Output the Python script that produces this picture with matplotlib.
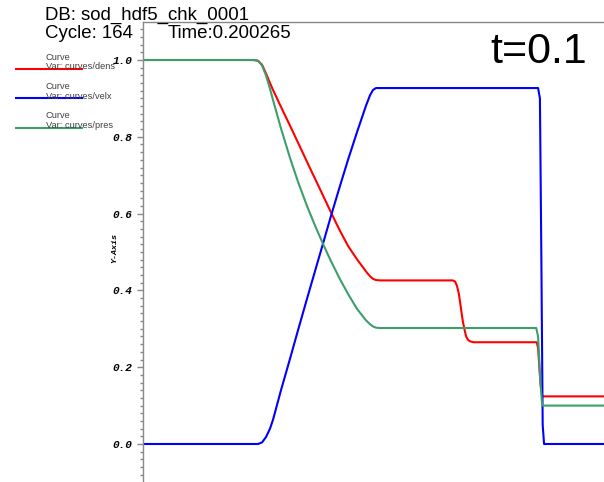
import matplotlib
matplotlib.use("Agg")
import matplotlib.pyplot as plt
from matplotlib.lines import Line2D
import numpy as np

# ---- data (x as fraction of the visible plot width) ----
dens_x = [0.0, 0.2408, 0.2495, 0.2581, 0.2668, 0.2755, 0.2820, 0.2993, 0.3189,
          0.3362, 0.3557, 0.3731, 0.3905, 0.4078, 0.4273, 0.4447, 0.4642, 0.4772,
          0.4859, 0.4924, 0.4989, 0.5054, 0.5141, 0.672, 0.677, 0.681, 0.685,
          0.688, 0.691, 0.694, 0.698, 0.701, 0.705, 0.710, 0.717, 0.854, 0.857,
          0.862, 0.866, 1.0]
dens_y = [1.0, 1.0, 0.998, 0.988, 0.965, 0.940, 0.922, 0.878, 0.829,
          0.785, 0.735, 0.691, 0.647, 0.603, 0.555, 0.516, 0.481, 0.460,
          0.446, 0.437, 0.430, 0.427, 0.426, 0.426, 0.423, 0.412, 0.392,
          0.368, 0.342, 0.318, 0.295, 0.280, 0.271, 0.267, 0.265, 0.265, 0.250,
          0.160, 0.124, 0.124]

velx_x = [0.0, 0.2495, 0.2581, 0.2668, 0.2755, 0.2820, 0.2993, 0.3189, 0.3362,
          0.3557, 0.3731, 0.3905, 0.4078, 0.4273, 0.4447, 0.4642, 0.4772, 0.4837,
          0.4924, 0.4989, 0.5054, 0.857, 0.861, 0.864, 0.867, 0.870, 1.0]
velx_y = [0.0, 0.0, 0.004, 0.018, 0.040, 0.063, 0.140, 0.222, 0.296,
          0.378, 0.450, 0.522, 0.594, 0.672, 0.740, 0.812, 0.858, 0.881,
          0.908, 0.922, 0.927, 0.927, 0.900, 0.500, 0.050, 0.0, 0.0]

pres_x = [0.0, 0.2408, 0.2495, 0.2581, 0.2668, 0.2755, 0.2820, 0.2993, 0.3189,
          0.3362, 0.3557, 0.3731, 0.3905, 0.4078, 0.4273, 0.4447, 0.4642, 0.4772,
          0.4837, 0.4924, 0.4989, 0.5054, 0.5141, 0.853, 0.857, 0.862, 0.866, 1.0]
pres_y = [1.0, 1.0, 0.998, 0.986, 0.960, 0.925, 0.896, 0.822, 0.745,
          0.683, 0.620, 0.569, 0.521, 0.476, 0.429, 0.391, 0.352, 0.332,
          0.322, 0.312, 0.306, 0.303, 0.302, 0.302, 0.280, 0.160, 0.100, 0.100]

yticks = [0.0, 0.2, 0.4, 0.6, 0.8, 1.0]
ytick_labels = ["0.0", "0.2", "0.4", "0.6", "0.8", "1.0"]
series_names = ["Var: curves/dens", "Var: curves/velx", "Var: curves/pres"]
series_colors = ["#ff0000", "#0000ff", "#3d9e6b"]

W, H = 604, 482
fig = plt.figure(figsize=(W / 100, H / 100), dpi=100)
ax = fig.add_axes([143 / W, 0.0, (W - 143) / W, (H - 22) / H])

for (xs, ys, c) in [(dens_x, dens_y, series_colors[0]),
                    (velx_x, velx_y, series_colors[1]),
                    (pres_x, pres_y, series_colors[2])]:
    ax.plot(xs, ys, color=c, lw=1.5, solid_joinstyle="round")

ax.set_xlim(0, 1)
ax.set_ylim(-0.099, 1.099)
for s in ["bottom", "right"]:
    ax.spines[s].set_visible(False)
for s in ["left", "top"]:
    ax.spines[s].set_color("#888888")
    ax.spines[s].set_linewidth(1.0)
ax.set_xticks([])
ax.set_yticks(yticks)
ax.set_yticklabels(ytick_labels, fontfamily="Liberation Mono",
                   fontweight="bold", fontstyle="italic", fontsize=8)
ax.set_yticks(np.arange(-0.08, 1.09, 0.02), minor=True)
ax.tick_params(axis="y", which="major", length=4.3, width=1.0, color="#888888", pad=3.3)
ax.tick_params(axis="y", which="minor", length=2.2, width=1.0, color="#888888")

fig.text(115 / W, 1 - 248 / H, "Y-Axis", rotation=90, ha="center", va="center",
         fontfamily="Liberation Mono", fontweight="bold", fontstyle="italic", fontsize=6)

# header texts
fig.text(45 / W, 1 - 20 / H, "DB: sod_hdf5_chk_0001", fontfamily="Liberation Sans",
         fontsize=13.4, va="baseline", ha="left")
fig.text(45 / W, 1 - 37.5 / H, "Cycle: 164", fontfamily="Liberation Sans",
         fontsize=13.4, va="baseline", ha="left")
fig.text(168 / W, 1 - 37.5 / H, "Time:0.200265", fontfamily="Liberation Sans",
         fontsize=13.4, va="baseline", ha="left")
fig.text(490 / W, 1 - 63 / H, "t=0.1", fontfamily="Liberation Sans",
         fontsize=31, va="baseline", ha="left")

# legend
line_ys = [69, 98.5, 128]
for name, c, ly in zip(series_names, series_colors, line_ys):
    fig.text(46 / W, 1 - (ly - 9.5) / H, "Curve", fontfamily="Liberation Sans",
             fontsize=6.7, color="#404040", va="baseline")
    fig.text(46 / W, 1 - (ly + 0.5) / H, name, fontfamily="Liberation Sans",
             fontsize=6.7, color="#404040", va="baseline")
    fig.add_artist(Line2D([16 / W, 82 / W], [1 - ly / H, 1 - ly / H], color=c, lw=1.5,
                          transform=fig.transFigure))

fig.savefig("out.png", dpi=100)
